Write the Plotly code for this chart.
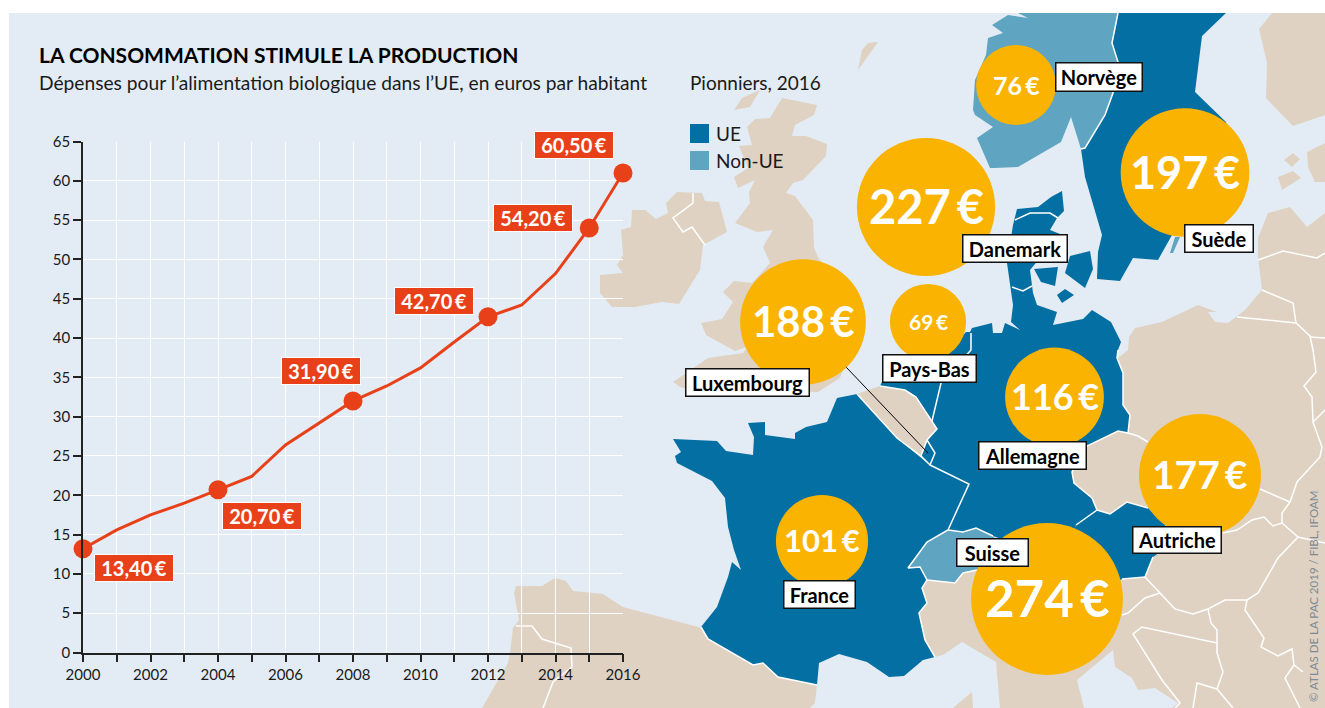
import plotly.graph_objects as go

# ---- line chart data ----
years = list(range(2000, 2017))
spend = [13.2, 15.6, 17.5, 19.0, 20.7, 22.4, 26.4, 29.2, 32.0, 33.9, 36.2, 39.5, 42.7, 44.2, 48.2, 54.0, 61.0]
key_years = [2000, 2004, 2008, 2012, 2015, 2016]
key_values = [13.2, 20.7, 32.0, 42.7, 54.0, 61.0]
key_labels = ["13,40 €", "20,70 €", "31,90 €", "42,70 €", "54,20 €", "60,50 €"]
key_label_x = [134, 262, 321, 434, 533, 574]
key_label_y = [568, 516, 371, 301, 218, 144.5]
year_ticks = ["2000", "", "2002", "", "2004", "", "2006", "", "2008", "", "2010", "", "2012", "", "2014", "", "2016"]
value_ticks = list(range(0, 70, 5))

# ---- bubble data ----
countries = ["Norvège", "Suède", "Danemark", "Luxembourg", "Pays-Bas", "Allemagne", "France", "Autriche", "Suisse"]
per_head = [76, 197, 227, 188, 69, 116, 101, 177, 274]
bubble_x = [1016, 1185, 926, 803, 928, 1054.5, 822, 1200, 1047]
bubble_y = [85, 172.5, 207, 322, 322, 397, 541, 475, 599]
bubble_font = [25, 45, 47, 42, 21, 36, 31, 39, 51]
tag_box = {  # x0, x1, y0, y1
    "Norvège": (1055, 1143, 62, 92), "Suède": (1184, 1254, 224, 253), "Danemark": (962, 1068, 234, 263),
    "Luxembourg": (685, 810, 368, 397), "Pays-Bas": (882, 977, 354, 383), "Allemagne": (978, 1087, 441, 470),
    "France": (783, 856, 580, 609), "Suisse": (956, 1029, 538, 567), "Autriche": (1132, 1222, 526, 554),
}

# ---- base map outlines (page-pixel drawing space) ----
LAND = "#dfd2c3"; EU = "#046fa3"; NONEU = "#5fa5c2"; SEA = "#e3ecf4"
land = [
    # Great Britain
    [(782,98),(817,105),(814,115),(795,125),(792,136),(806,136),(827,144),(826,156),(803,180),(793,183),(786,193),(795,196),(813,220),(814,248),(819,259),(850,290),(850,350),(840,378),(818,392),(690,390),(680,387),(673,382),(708,358),(743,353),(747,347),(735,351),(706,335),(701,323),(722,319),(733,302),(723,292),(734,281),(752,283),(770,263),(763,247),(773,230),(757,232),(735,223),(750,203),(749,192),(755,180),(738,188),(734,177),(748,168),(739,146),(752,145),(747,127),(755,119),(770,118)],
    [(734,110),(742,98),(760,90),(750,107)],
    [(858,70),(862,50),(868,43),(878,42)],
    # Ireland
    [(632,210),(645,210),(656,219),(668,213),(666,203),(677,192),(702,193),(705,201),(719,202),(727,232),(703,245),(700,270),(679,304),(662,302),(635,307),(612,307),(600,293),(600,275),(623,273),(617,265),(623,255),(621,230),(631,227)],
    # Iberia
    [(516,586),(542,586),(555,578),(566,581),(573,591),(603,594),(623,607),(702,628),(708,639),(753,665),(763,663),(778,677),(817,685),(815,703),(810,708),(482,708),(508,663),(510,653),(513,628),(519,620),(514,593)],
    # Belgium
    [(857,394),(880,386),(905,390),(916,397),(932,421),(937,429),(927,440),(921,456),(897,438)],
    # Italy
    [(920,567),(1100,560),(1125,640),(1077,680),(1084,708),(1000,708),(996,662),(962,642),(943,655),(935,657),(925,640),(919,613),(927,603),(922,588)],
    [(972,692),(973,708),(953,708)],
    # Continental east
    [(1118,358),(1128,350),(1129,337),(1135,328),(1162,322),(1198,305),(1217,312),(1208,312),(1215,322),(1228,323),(1245,310),(1262,290),(1258,257),(1258,238),(1268,213),(1290,207),(1307,227),(1325,213),(1325,708),(1172,708),(1178,703),(1155,688),(1138,690),(1132,678),(1115,667),(1112,643),(1090,600),(1060,430)],
    # Finland, Estonia, islands
    [(1272,13),(1259,29),(1267,63),(1266,98),(1293,126),(1325,115),(1325,13)],
    [(1307,152),(1325,143),(1325,182),(1315,182),(1308,167)],
    [(1284,160),(1293,153),(1300,159),(1292,167)],
    [(1278,177),(1293,171),(1301,178),(1282,190)],
]
eu = [
    # Sweden
    [(1118,13),(1226,13),(1202,36),(1195,92),(1226,122),(1245,190),(1172,235),(1158,260),(1133,258),(1120,281),(1097,279),(1098,252),(1102,235),(1085,177),(1081,149),(1085,148),(1105,115),(1113,93),(1118,62),(1112,43)],
    # Jutland and Germany
    [(1017,209),(1038,207),(1051,197),(1062,191),(1064,211),(1057,218),(1050,230),(1060,234),(1030,270),(1033,293),(1037,305),(1057,312),(1053,325),(1083,319),(1092,310),(1111,322),(1121,342),(1118,350),(1117,358),(1123,373),(1123,405),(1130,415),(1128,433),(1118,431),(1087,446),(1072,472),(1074,483),(1092,498),(1097,510),(1076,525),(1060,560),(993,536),(976,528),(963,532),(948,530),(969,484),(930,465),(935,453),(927,440),(937,429),(932,421),(941,383),(971,350),(970,332),(972,328),(985,325),(992,323),(993,333),(1002,333),(1005,323),(1020,330),(1011,322),(1013,305),(1007,263),(1013,225)],
    # Danish islands
    [(1034,269),(1058,267),(1055,286),(1041,282)],
    [(1065,273),(1070,256),(1090,251),(1093,269),(1085,288)],
    [(1057,295),(1065,289),(1074,295),(1062,303)],
    # Netherlands
    [(966,332),(947,353),(890,365),(880,386),(905,390),(916,397),(932,421),(941,383),(971,350),(970,332)],
    # Austria
    [(1076,525),(1097,510),(1110,514),(1127,502),(1148,508),(1165,525),(1170,545),(1153,557),(1145,577),(1122,579),(1100,590),(1060,560)],
    # France
    [(857,394),(837,398),(827,422),(806,427),(795,433),(795,439),(765,435),(765,422),(748,423),(754,437),(753,455),(726,451),(717,441),(673,439),(681,452),(675,456),(677,463),(712,481),(725,498),(728,527),(734,550),(741,570),(732,562),(728,577),(717,607),(701,627),(708,639),(753,665),(763,663),(778,677),(817,685),(819,663),(839,654),(867,662),(889,677),(904,676),(923,660),(935,657),(925,640),(919,613),(927,603),(922,588),(927,580),(920,567),(908,568),(927,542),(948,530),(969,484),(930,465),(920,457),(897,438)],
    # Luxembourg
    [(921,456),(927,440),(935,453),(930,465)],
]
non_eu = [
    # Norway
    [(1018,13),(1028,18),(1008,15),(992,25),(1003,33),(988,38),(986,55),(975,80),(973,110),(975,115),(993,127),(977,138),(990,168),(995,168),(1018,167),(1061,142),(1071,117),(1081,149),(1085,148),(1105,115),(1113,93),(1118,62),(1112,43),(1118,13)],
    # Gotland
    [(1175,237),(1180,237),(1173,253),(1170,253)],
    # Switzerland
    [(908,568),(927,542),(948,530),(963,532),(976,528),(993,536),(1010,560),(977,570),(963,573),(955,583),(927,580),(920,567)],
]
borders = [
    [(693,193),(693,203),(673,218),(683,232),(692,227),(705,245)],
    [(1118,13),(1112,43),(1118,62),(1113,93),(1105,115),(1085,148),(1081,149)],
    [(1015,220),(1030,213),(1050,213),(1058,218)],
    [(1012,287),(1023,291),(1032,286)],
    [(971,333),(971,350),(941,383),(932,421)],
    [(880,386),(905,390),(916,397),(932,421),(937,429),(927,440),(921,456),(897,438),(857,394)],
    [(927,440),(935,453),(930,465),(921,456)],
    [(930,465),(969,484),(948,530),(927,542),(908,568),(920,567),(927,580),(922,588),(927,603),(919,613),(925,640),(935,657)],
    [(948,530),(963,532),(976,528),(993,536)],
    [(927,580),(955,583),(963,573),(977,570)],
    [(701,627),(708,639),(753,665),(763,663),(778,677),(817,685)],
    [(516,626),(532,626),(542,639),(571,648),(572,667),(553,682),(543,708)],
    [(1118,350),(1117,358),(1123,373),(1123,405),(1130,415),(1128,433),(1118,431),(1087,446),(1072,472),(1074,483),(1092,498),(1097,510),(1076,525)],
    [(1128,433),(1138,436),(1148,442)],
    [(1097,510),(1110,514),(1127,502),(1148,508)],
    [(1122,579),(1145,577),(1160,593),(1175,609),(1193,614),(1208,609),(1225,600),(1247,600),(1258,593),(1278,558),(1298,537),(1325,543)],
    [(1145,577),(1153,557)],
    [(1122,615),(1128,613),(1145,598),(1160,593)],
    [(1223,533),(1237,530),(1252,520),(1264,517),(1273,526),(1282,523),(1298,537)],
    [(1260,489),(1290,502),(1282,513),(1282,523)],
    [(1290,502),(1297,482),(1320,457),(1322,447),(1313,422),(1312,397),(1304,386),(1316,372),(1313,350),(1310,336),(1296,323),(1237,317)],
    [(1313,422),(1325,410)],
    [(1310,337),(1325,338)],
    [(1296,323),(1293,303),(1262,290)],
    [(1258,260),(1283,251),(1317,258),(1325,253)],
    [(1208,609),(1211,623),(1217,630),(1217,653),(1223,672),(1217,689),(1197,683),(1193,708)],
    [(1217,643),(1142,627),(1133,634),(1162,680),(1180,703),(1175,708)],
    [(1217,689),(1233,708)],
    [(1247,600),(1245,610),(1264,638),(1261,647),(1278,656),(1292,649),(1294,665),(1285,678),(1300,708)],
    [(1294,665),(1303,672)],
]
leader = [(846,367),(928,453)]
legend_names = ["UE", "Non-UE"]
legend_colors = [EU, NONEU]
legend_y = [124, 151]

FONT = "Lato"
INK = "#1a1a1a"
RED = "#e8411a"
ORANGE = "#fab300"

fig = go.Figure()

def poly(points, color):
    xs = [p[0] for p in points] + [points[0][0]]
    ys = [p[1] for p in points] + [points[0][1]]
    fig.add_trace(go.Scatter(x=xs, y=ys, mode="lines", fill="toself", fillcolor=color,
                             line=dict(width=0, color=color), hoverinfo="skip", showlegend=False,
                             xaxis="x", yaxis="y"))

for p in land:
    poly(p, LAND)
for p in eu:
    poly(p, EU)
for p in non_eu:
    poly(p, NONEU)

bx, by = [], []
for b in borders:
    bx += [p[0] for p in b] + [None]
    by += [p[1] for p in b] + [None]
fig.add_trace(go.Scatter(x=bx, y=by, mode="lines", line=dict(color="white", width=1.5),
                         hoverinfo="skip", showlegend=False, xaxis="x", yaxis="y"))
fig.add_trace(go.Scatter(x=[p[0] for p in leader], y=[p[1] for p in leader], mode="lines",
                         line=dict(color="black", width=1), hoverinfo="skip", showlegend=False,
                         xaxis="x", yaxis="y"))

# bubbles: diameter scales with the square root of the value
fig.add_trace(go.Scatter(x=bubble_x, y=bubble_y, mode="markers",
                         marker=dict(size=per_head, sizemode="area", sizeref=2 / 9.17 ** 2, color=ORANGE,
                                     opacity=1, line=dict(width=0)),
                         hoverinfo="skip", showlegend=False, xaxis="x", yaxis="y"))

# line chart
fig.add_trace(go.Scatter(x=years, y=spend, mode="lines", line=dict(color=RED, width=3),
                         hoverinfo="skip", showlegend=False, xaxis="x2", yaxis="y2", cliponaxis=False))
fig.add_trace(go.Scatter(x=key_years, y=key_values, mode="markers", marker=dict(color=RED, size=19, opacity=1),
                         hoverinfo="skip", showlegend=False, xaxis="x2", yaxis="y2", cliponaxis=False))

ann = []
for v, x, y, s in zip(per_head, bubble_x, bubble_y, bubble_font):
    ann.append(dict(x=x, y=y, xref="x", yref="y", text=f"<b>{v}\u2009€</b>", showarrow=False, yshift=0.02 * s,
                    font=dict(family=FONT, size=s, color="white")))
for name, (x0, x1, y0, y1) in tag_box.items():
    ann.append(dict(x=(x0 + x1) / 2, y=(y0 + y1) / 2, xref="x", yref="y", text=f"<b>{name}</b>", showarrow=False,
                    bgcolor="white", bordercolor="#111", borderwidth=1.5, borderpad=0,
                    width=x1 - x0 - 3, height=y1 - y0 - 3, align="center", valign="middle",
                    font=dict(family=FONT, size=20, color="black")))
for t, x, y in zip(key_labels, key_label_x, key_label_y):
    ann.append(dict(x=x, y=y, xref="x", yref="y", text=f"<b>{t.replace(' ', chr(0x2009))}</b>", showarrow=False,
                    bgcolor=RED, bordercolor="white", borderwidth=1, borderpad=0,
                    width=78, height=26, align="center", valign="middle",
                    font=dict(family=FONT, size=20, color="white")))
ann.append(dict(x=37, y=54, xref="x", yref="y", xanchor="left", text="<b>LA CONSOMMATION STIMULE LA PRODUCTION</b>",
                showarrow=False, font=dict(family=FONT, size=21, color="black")))
ann.append(dict(x=37, y=82, xref="x", yref="y", xanchor="left",
                text="Dépenses pour l’alimentation biologique dans l’UE, en euros par habitant",
                showarrow=False, font=dict(family=FONT, size=19.2, color=INK)))
ann.append(dict(x=688, y=82, xref="x", yref="y", xanchor="left", text="Pionniers, 2016",
                showarrow=False, font=dict(family=FONT, size=19, color=INK)))
for n, y in zip(legend_names, legend_y):
    ann.append(dict(x=714, y=y + 9.5, xref="x", yref="y", xanchor="left", text=n,
                    showarrow=False, font=dict(family=FONT, size=19, color=INK)))
ann.append(dict(x=1313, y=597, xref="x", yref="y", text="© ATLAS DE LA PAC 2019 / FIBL, IFOAM", textangle=-90,
                showarrow=False, font=dict(family=FONT, size=11.5, color="#7d8a93")))

shapes = [dict(type="rect", xref="x", yref="y", x0=9, x1=1325, y0=13, y1=708, fillcolor=SEA, line=dict(width=0), layer="below")]
for c, y in zip(legend_colors, legend_y):
    shapes.append(dict(type="rect", xref="x", yref="y", x0=690, x1=709, y0=y, y1=y + 19, fillcolor=c, line=dict(width=0)))

fig.update_layout(
    width=1325, height=708, margin=dict(l=0, r=0, t=0, b=0, pad=0, autoexpand=False), autosize=False,
    paper_bgcolor="white", plot_bgcolor="rgba(0,0,0,0)", showlegend=False,
    annotations=ann, shapes=shapes,
    xaxis=dict(domain=[0, 1], range=[0, 1325], visible=False, fixedrange=True),
    yaxis=dict(domain=[0, 1], range=[708, 0], visible=False, fixedrange=True),
    xaxis2=dict(domain=[83 / 1325, 623 / 1325], range=[2000, 2016], anchor="y2", tickmode="array",
                tickvals=years, ticktext=year_ticks, ticks="outside", ticklen=8, tickwidth=1.5, tickcolor="#222",
                showgrid=True, gridcolor="white", gridwidth=1.2, showline=True, linecolor="#222", linewidth=1.5,
                zeroline=False, tickangle=0, tickfont=dict(family=FONT, size=15, color=INK), fixedrange=True),
    yaxis2=dict(domain=[1 - 652.5 / 708, 1 - 141.5 / 708], range=[0, 65], anchor="x2", tickmode="array",
                tickvals=value_ticks, ticks="outside", ticklen=8, tickwidth=1.5, tickcolor="#222",
                showgrid=True, gridcolor="white", gridwidth=1.2, showline=True, linecolor="#222", linewidth=1.5,
                zeroline=False, tickfont=dict(family=FONT, size=15, color=INK), fixedrange=True),
)

fig.write_html("out.html", config={"displayModeBar": False},
               post_script="document.body.style.margin='0';document.body.style.overflow='hidden';")
